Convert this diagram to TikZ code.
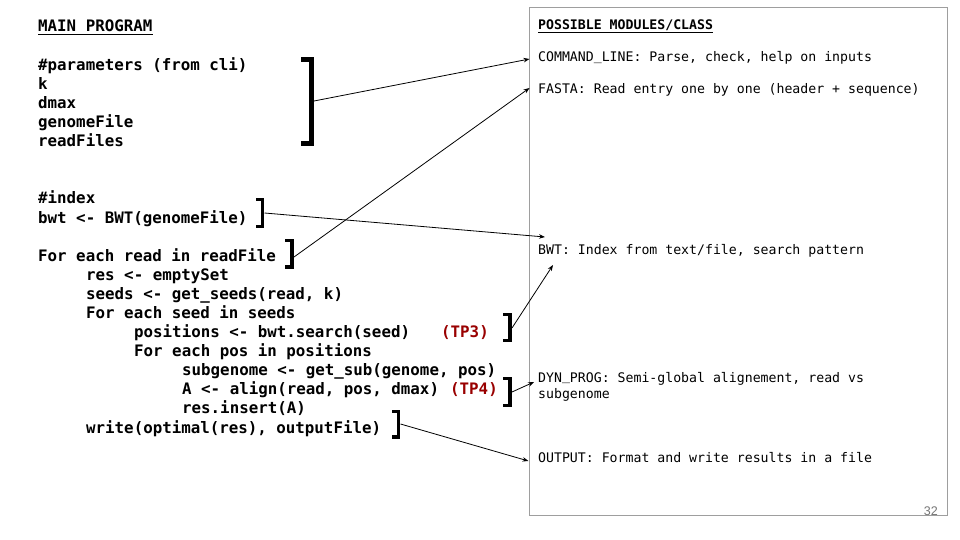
\documentclass[tikz,border=0pt]{standalone}
\usepackage{fontspec}
\newfontfamily\codefont{DejaVu Sans Mono}
\newfontfamily\numfont{Liberation Sans}
\usetikzlibrary{arrows.meta,calc}
\definecolor{tpred}{HTML}{990000}
\definecolor{boxgray}{HTML}{9E9E9E}
\definecolor{numgray}{HTML}{757575}
\newcommand{\usc}{\raisebox{0.12em}{\_}}
\begin{document}
\begin{tikzpicture}[x=1pt,y=-1pt,
  code/.style={anchor=base west, inner sep=0pt, font=\codefont\bfseries\fontsize{15.8}{19}\selectfont},
  tp/.style={code, text=tpred},
  mod/.style={anchor=base west, inner sep=0pt, font=\codefont\fontsize{13.2}{16}\selectfont},
  brk/.style={line width=3.5pt, line join=miter},
  bigbrk/.style={line width=5pt, line join=miter},
  link/.style={-{Stealth[length=6pt,width=4.5pt]}, line width=0.8pt},
  uline/.style={line width=1.3pt}
]
\fill[white] (0,0) rectangle (960,540);
\useasboundingbox (0,0) rectangle (960,540);

% right box
\draw[boxgray, line width=1pt] (529,8) rectangle (947,515);
\node[anchor=base east, inner sep=0pt, text=numgray, font=\numfont\fontsize{12.5}{14}\selectfont] (pagenum) at (938,515) {32};

% left code
\node[code] (title) at (38,32) {MAIN PROGRAM};
\draw[uline] ($(title.base west)+(0,2.5)$) -- ($(title.base east)+(0,2.5)$);
\node[code] (l1) at (38,71) {\#parameters (from cli)};
\node[code] (l2) at (38,90) {k};
\node[code] (l3) at (38,109) {dmax};
\node[code] (l4) at (38,128) {genomeFile};
\node[code] (l5) at (38,147) {readFiles};
\node[code] (l6) at (38,204) {\#index};
\node[code] (l7) at (38,223) {bwt <- BWT(genomeFile)};
\node[code] (l8) at (38,261) {For each read in readFile};
\node[code] (l9) at (86,280) {res <- emptySet};
\node[code] (l10) at (86,299) {seeds <- get\_seeds(read, k)};
\node[code] (l11) at (86,318) {For each seed in seeds};
\node[code] (l12) at (134,337) {positions <- bwt.search(seed)};
\node[tp] (tp3) at (441,337) {(TP3)};
\node[code] (l13) at (134,356) {For each pos in positions};
\node[code] (l14) at (182,375) {subgenome <- get\_sub(genome, pos)};
\node[code] (l15) at (182,394) {A <- align(read, pos, dmax)};
\node[tp] (tp4) at (450,394) {(TP4)};
\node[code] (l16) at (182,413) {res.insert(A)};
\node[code] (l17) at (86,433) {write(optimal(res), outputFile)};

% right modules
\node[mod, font=\codefont\bfseries\fontsize{13.2}{16}\selectfont] (mtitle) at (538,30) {POSSIBLE MODULES/CLASS};
\draw[line width=1.1pt] ($(mtitle.base west)+(0,2.5)$) -- ($(mtitle.base east)+(0,2.5)$);
\node[mod] (cmd) at (538,62) {COMMAND\usc LINE: Parse, check, help on inputs};
\node[mod] (fasta) at (538,94) {FASTA: Read entry one by one (header + sequence)};
\node[mod] (bwtm) at (538,254) {BWT: Index from text/file, search pattern};
\node[mod] (dyn) at (538,382) {DYN\usc PROG: Semi-global alignement, read vs};
\node[mod] (dyn2) at (538,398) {subgenome};
\node[mod] (outm) at (538,462) {OUTPUT: Format and write results in a file};

% brackets
\draw[bigbrk] (301,59.5) -- (311.5,59.5) -- (311.5,144) -- (301,144);
\draw[brk] (256,199.5) -- (262.5,199.5) -- (262.5,226.5) -- (256,226.5);
\draw[brk] (285,240.5) -- (292,240.5) -- (292,267) -- (285,267);
\draw[brk] (503,314.5) -- (510,314.5) -- (510,340.5) -- (503,340.5);
\draw[brk] (503,378.5) -- (510,378.5) -- (510,405.5) -- (503,405.5);
\draw[brk] (392,411.5) -- (398.5,411.5) -- (398.5,437) -- (392,437);

% bracket connection points
\coordinate (bpar) at (314,101);
\coordinate (bbwt) at (264.5,213);
\coordinate (bread) at (294,257);
\coordinate (btp3) at (512,328);
\coordinate (btp4) at (512,392);
\coordinate (bwrite) at (400.5,424);
% targets
\coordinate (tcmd) at (529.5,59);
\coordinate (tfasta) at (529.5,88);
\coordinate (tbwt) at (545,237);
\coordinate (tbwt2) at (553,265);
\coordinate (tdyn) at (534,382);
\coordinate (tout) at (528.5,461);

\draw[link] (bpar) -- (tcmd);
\draw[link] (bread) -- (tfasta);
\draw[link] (bbwt) -- (tbwt);
\draw[link] (btp3) -- (tbwt2);
\draw[link] (btp4) -- (tdyn);
\draw[link] (bwrite) -- (tout);
\end{tikzpicture}
\end{document}
